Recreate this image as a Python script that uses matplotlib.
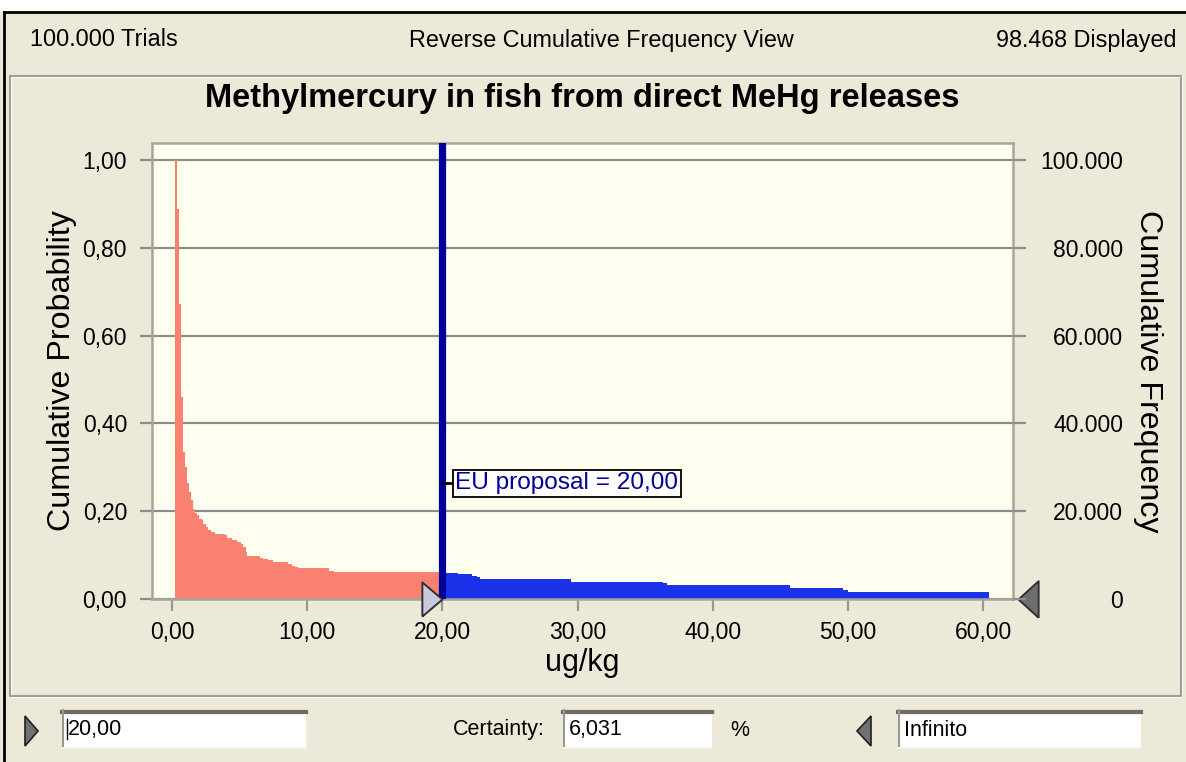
import numpy as np
import matplotlib
matplotlib.use("Agg")
import matplotlib.pyplot as plt
from matplotlib.patches import Rectangle, Polygon

# ---------------- data ----------------
x_edges = [0.22, 0.35, 0.52, 0.67, 0.84, 0.99, 1.13, 1.28, 1.43, 1.58,
           1.70, 1.83, 2.02, 2.19, 2.32, 2.51, 2.69, 2.86, 3.18, 3.92,
           4.09, 4.41, 4.78, 5.08, 5.28, 5.47, 5.57, 6.51, 6.75, 7.12,
           7.49, 8.60, 8.85, 9.10, 9.34, 11.60, 11.95, 20.00, 21.18, 22.17,
           22.53, 22.78, 29.50, 36.34, 36.60, 45.70, 49.65, 50.00, 60.40]
prob = [1.000, 0.889, 0.673, 0.460, 0.335, 0.300, 0.264, 0.243, 0.225, 0.205,
        0.195, 0.191, 0.183, 0.180, 0.172, 0.164, 0.157, 0.153, 0.149, 0.145,
        0.140, 0.134, 0.130, 0.125, 0.119, 0.108, 0.098, 0.094, 0.092, 0.089,
        0.085, 0.080, 0.075, 0.072, 0.070, 0.064, 0.0605, 0.0603, 0.057, 0.052,
        0.050, 0.045, 0.039, 0.036, 0.031, 0.026, 0.020, 0.015]
threshold = 20.0
x_ticks = [0, 10, 20, 30, 40, 50, 60]
x_ticklabels = ["0,00", "10,00", "20,00", "30,00", "40,00", "50,00", "60,00"]
y_ticks = [0.0, 0.2, 0.4, 0.6, 0.8, 1.0]
y_ticklabels = ["0,00", "0,20", "0,40", "0,60", "0,80", "1,00"]
freq_ticks = [0, 20000, 40000, 60000, 80000, 100000]
freq_ticklabels = ["0", "20.000", "40.000", "60.000", "80.000", "100.000"]
trials = 100000

title = "Methylmercury in fish from direct MeHg releases"
header_left = "100.000 Trials"
header_mid = "Reverse Cumulative Frequency View"
header_right = "98.468 Displayed"
marker_label = "EU proposal = 20,00"

# ---------------- style ----------------
FONT = "Liberation Sans"
plt.rcParams["font.family"] = [FONT, "DejaVu Sans"]
BEIGE = "#ECE9D8"
CREAM = "#FFFFF0"
GRID = "#8C8C8C"
SALMON = "#FA8072"
BLUE = "#1C32E8"
NAVY = "#000099"

W, H = 1186, 762
fig = plt.figure(figsize=(W / 100, H / 100), dpi=100, facecolor=BEIGE)

# background overlay in pixel coordinates
bg = fig.add_axes([0, 0, 1, 1], zorder=-5)
bg.set_xlim(0, W)
bg.set_ylim(H, 0)
bg.axis("off")

bg.add_patch(Rectangle((0, 0), W, 12, facecolor="white", edgecolor="none"))
bg.plot([4, W], [12, 12], color="black", lw=2)
bg.plot([4, 4], [12, H], color="black", lw=2)
# chart panel
bg.add_patch(Rectangle((11, 77), 1171, 620, facecolor="none", edgecolor="white", lw=1.5))
bg.add_patch(Rectangle((10, 76), 1171, 620, facecolor="none", edgecolor="#A09E94", lw=1.5))

fs_head = 16.8
fig.text(30 / W, 1 - 40 / H, header_left, ha="left", va="center", fontsize=fs_head)
fig.text(601 / W, 1 - 40 / H, header_mid, ha="center", va="center", fontsize=fs_head)
fig.text(1176 / W, 1 - 40 / H, header_right, ha="right", va="center", fontsize=fs_head)


def textbox(x0, x1, y0, y1, txt, caret=False):
    bg.add_patch(Rectangle((x0, y0), x1 - x0, y1 - y0, facecolor="white", edgecolor="none"))
    bg.plot([x0, x1], [y0 + 1.5, y0 + 1.5], color="#6E6C66", lw=3)
    bg.plot([x0 + 1, x0 + 1], [y0, y1], color="#9A9890", lw=1.5)
    bg.plot([x0, x1], [y1, y1], color="#F4F3EE", lw=1.5)
    bg.text(x0 + 6, (y0 + y1) / 2 + 1, txt, ha="left", va="center", fontsize=15.5)
    if caret:
        bg.plot([x0 + 5, x0 + 5], [y0 + 9, y1 - 9], color="black", lw=1)


textbox(62, 306, 710, 748, "20,00", caret=True)
textbox(563, 712, 710, 748, "6,031")
textbox(898, 1141, 710, 748, "Infinito")
bg.text(453, 730, "Certainty:", ha="left", va="center", fontsize=15.5)
bg.text(730, 730, "%", ha="left", va="center", fontsize=15.5)
bg.add_patch(Polygon([(25, 716), (38, 731), (25, 746)], closed=True,
                     facecolor="#707070", edgecolor="#202020", lw=1.2))
bg.add_patch(Polygon([(871, 716), (857, 731), (871, 746)], closed=True,
                     facecolor="#707070", edgecolor="#202020", lw=1.2))

# ---------------- main axes ----------------
L, R, T, B = 152, 1013, 143, 599
ax = fig.add_axes([L / W, 1 - B / H, (R - L) / W, (B - T) / H], facecolor=CREAM)
xmin, xmax = -1.48, 62.2
ymax = 1.039
ax.set_xlim(xmin, xmax)
ax.set_ylim(0, ymax)

edges = np.array(x_edges)
vals = np.array(prob)
n_red = int(np.searchsorted(edges, threshold))
ax.stairs(vals[:n_red], edges[:n_red + 1], fill=True, color=SALMON, zorder=2, lw=0)
ax.stairs(vals[n_red:], edges[n_red:], fill=True, color=BLUE, zorder=2, lw=0)

ax.set_yticks(y_ticks)
ax.set_yticklabels(y_ticklabels)
ax.set_xticks(x_ticks)
ax.set_xticklabels(x_ticklabels)
ax.grid(axis="y", color=GRID, lw=1.6, zorder=1)
ax.set_axisbelow(True)
ax.tick_params(axis="y", direction="out", length=8.6, width=1.6, color=GRID,
               pad=9.4, labelsize=16.5)
ax.tick_params(axis="x", direction="out", length=8.6, width=1.6, color="#9A9890",
               pad=7, labelsize=16.5)
for s in ax.spines.values():
    s.set_color("#A8A69C")
    s.set_linewidth(1.8)

ax.set_xlabel("ug/kg", fontsize=22, labelpad=3)
ax.set_ylabel("Cumulative Probability", fontsize=23.2, labelpad=4)
ax.text(0.5, 1 + (T - 99) / (B - T), title, transform=ax.transAxes, ha="center",
        va="center", fontsize=23.5, fontweight="bold")

# threshold line and label
ax.axvline(threshold, color=NAVY, lw=5.2, zorder=4)
lab_x = threshold + 0.95
lab_y = 0.264
ax.plot([threshold, lab_x], [lab_y, lab_y], color="black", lw=2, zorder=5)
ax.text(lab_x, lab_y, marker_label, ha="left", va="center", fontsize=17.6, color=NAVY,
        zorder=6, bbox=dict(boxstyle="square,pad=0.1", facecolor="white",
                            edgecolor="black", lw=1.3))

# slider triangles
ax.plot(threshold, 0, marker=[(-1.18, -1), (0, 0), (-1.18, 1), (-1.18, -1)],
        markersize=29, markerfacecolor="#C9C8DC", markeredgecolor="#303030",
        markeredgewidth=1.4, clip_on=False, zorder=7, linestyle="none")
ax.plot(1.0 + 5 / (R - L), 0, marker=[(1.1, -1), (0, 0), (1.1, 1), (1.1, -1)],
        markersize=29, markerfacecolor="#6E6E6E", markeredgecolor="#303030",
        markeredgewidth=1.4, clip_on=False, zorder=7, linestyle="none",
        transform=ax.transAxes)

# right axis: cumulative frequency
ax2 = ax.twinx()
ax2.set_ylim(0, ymax * trials)
ax2.set_yticks(freq_ticks)
ax2.set_yticklabels(freq_ticklabels)
ax2.tick_params(axis="y", direction="out", length=9.4, width=1.6, color=GRID,
                pad=70, labelsize=16.5)
for lbl in ax2.get_yticklabels():
    lbl.set_horizontalalignment("right")
for s in ax2.spines.values():
    s.set_visible(False)
ax2.set_ylabel("Cumulative Frequency", fontsize=23.2, rotation=270, va="bottom",
               labelpad=7)

fig.savefig("out.png", dpi=100, facecolor=BEIGE)
